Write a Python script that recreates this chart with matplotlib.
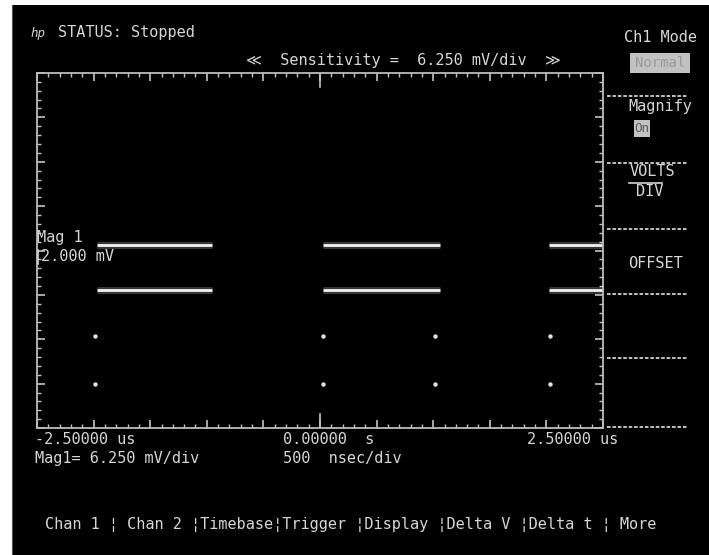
import matplotlib.pyplot as plt
from matplotlib.patches import Rectangle
from matplotlib.lines import Line2D
from matplotlib.ticker import MultipleLocator

W, H = 709, 555
FG = "#d6d6d6"
MONO = ["DejaVu Sans Mono", "DejaVu Sans", "Noto Sans CJK JP"]

# --- scope settings ---
t_left, t_right = -2.5, 2.5      # us
t_per_div = 0.5                  # 500 nsec/div
v_offset = 2.0                   # mV, Mag 1 reference
v_per_div = 6.25                 # mV/div
n_vdiv = 8

# Channel 1 (magnified): two levels drawn over three time segments
seg_start = [-1.97, 0.03, 2.02]
seg_end = [-0.95, 1.06, 2.50]
level_hi = 2.8
level_lo = -3.6

# sparse sample points near the edges
edge_t = [-1.99, 0.03, 1.02, 2.03]
edge_levels = [-10.0, -16.8]

menu_items = ["Chan 1 ", " Chan 2 ", "Timebase", "Trigger ", "Display ",
              "Delta V ", "Delta t ", " More"]
softkey_rows = [96, 163, 229, 294, 358, 427]   # separator rows, px from top


def fx(x):
    return x / W


def fy(y):
    return 1 - y / H


fig = plt.figure(figsize=(W / 100, H / 100), dpi=100, facecolor="black")


def txt(x, y, s, size=11, color=FG, **kw):
    fig.text(fx(x), fy(y), s, color=color, family=MONO, fontsize=size,
             ha=kw.pop("ha", "left"), va=kw.pop("va", "center"), **kw)


# photo border (paper edge)
fig.add_artist(Rectangle((0, 0), fx(12), 1, transform=fig.transFigure,
                         facecolor="white", edgecolor="none"))
fig.add_artist(Rectangle((0, fy(5)), 1, 5 / H, transform=fig.transFigure,
                         facecolor="white", edgecolor="none"))
fig.add_artist(Line2D([fx(12), fx(12)], [0, fy(5)], color="#555555", lw=0.8))

# --- graticule ---
ax = fig.add_axes([fx(37), fy(428), (603 - 37) / W, (428 - 73) / H])
ax.set_facecolor("black")
ax.set_xlim(t_left, t_right)
ax.set_ylim(v_offset - n_vdiv / 2 * v_per_div, v_offset + n_vdiv / 2 * v_per_div)
for sp in ax.spines.values():
    sp.set_color("#bdbdbd")
    sp.set_linewidth(1.3)
    sp.set_linestyle((0, (2, 1)))
ax.xaxis.set_major_locator(MultipleLocator(t_per_div))
ax.xaxis.set_minor_locator(MultipleLocator(t_per_div / 5))
ax.yaxis.set_major_locator(MultipleLocator(v_per_div, offset=v_offset))
ax.yaxis.set_minor_locator(MultipleLocator(v_per_div / 5, offset=v_offset))
ax.tick_params(which="both", direction="in", top=True, right=True,
               labelbottom=False, labelleft=False, color="#c4c4c4")
ax.tick_params(which="major", length=6, width=1.2)
ax.tick_params(which="minor", length=3, width=1.0)
# longer centre marks
ax.axvline(0, ymin=0, ymax=0.04, color="#c4c4c4", lw=1.2)
ax.axvline(0, ymin=0.96, ymax=1, color="#c4c4c4", lw=1.2)

# --- traces ---
for s, e in zip(seg_start, seg_end):
    for lv in (level_hi, level_lo):
        ax.plot([s, e], [lv, lv], color="white", lw=5, alpha=0.22,
                solid_capstyle="butt")
        ax.plot([s, e], [lv, lv], color="#f2f2f2", lw=2.0,
                solid_capstyle="butt")
for lv in edge_levels:
    ax.plot(edge_t, [lv] * len(edge_t), ls="none", marker="o", ms=3.2,
            color="#e0e0e0", mec="none")

# --- header ---
txt(30, 33, "hp", size=9, style="italic")
txt(58, 33, "STATUS: Stopped")
txt(246, 61, "\u226a  Sensitivity =  6.250 mV/div  \u226b")
txt(624, 37, "Ch1 Mode")

# --- softkey panel ---
fig.add_artist(Rectangle((fx(630), fy(73)), 60 / W, 20 / H,
                         transform=fig.transFigure, facecolor="#c2c2c2",
                         edgecolor="none"))
txt(660, 63, "Normal", size=10, color="#9a9a9a", ha="center")
for r in softkey_rows:
    fig.add_artist(Line2D([fx(607), fx(688)], [fy(r), fy(r)], color="#cfcfcf",
                          lw=1.3, ls=(0, (2, 1))))
txt(628, 106, "Magnify")
fig.add_artist(Rectangle((fx(634), fy(137)), 16 / W, 17 / H,
                         transform=fig.transFigure, facecolor="#c2c2c2",
                         edgecolor="none"))
txt(642, 128, "On", size=9, color="#5a5a5a", ha="center")
txt(630, 172, "VOLTS")
fig.add_artist(Line2D([fx(629), fx(662)], [fy(183), fy(183)], color=FG, lw=1.2))
txt(636, 192, "DIV")
txt(628, 263, "OFFSET")

# --- marker labels ---
txt(37, 237, "Mag 1")
fig.add_artist(Line2D([fx(38), fx(38)], [fy(250), fy(264)], color=FG, lw=1.2))
txt(41, 257, "2.000 mV")

# --- time axis labels ---
txt(35, 440, "-2.50000 us")
txt(283, 440, "0.00000  s")
txt(527, 440, "2.50000 us")
txt(35, 458, "Mag1= 6.250 mV/div")
txt(283, 458, "500  nsec/div")

# --- menu bar ---
txt(45, 525, "\u00a6".join(menu_items))

fig.savefig("out.png", dpi=100, facecolor="black")
